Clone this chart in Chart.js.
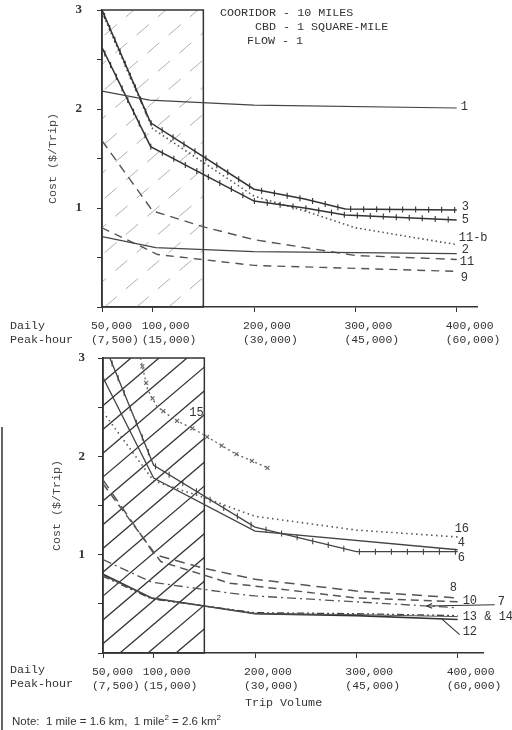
<!DOCTYPE html>
<html>
<head>
<meta charset="utf-8">
<script src="https://cdn.jsdelivr.net/npm/chart.js@4.4.1/dist/chart.umd.min.js"></script>
<style>
  body { margin: 0; background: #fff; width: 512px; height: 730px; position: relative; overflow: hidden; color: #333; }
  canvas { position: absolute; left: 0; }
  .t { position: absolute; font-family: "Liberation Mono", monospace; font-size: 11.7px; line-height: 14px; white-space: pre; color: #333; }
  .note { position: absolute; left: 12px; top: 713px; font-family: "Liberation Sans", Arial, sans-serif; font-size: 11.5px; color: #333; white-space: pre; }
  .scan { position: absolute; left: 1px; top: 427px; width: 2px; height: 303px; background: #666; }
</style>
</head>
<body>
<canvas id="topChart" width="512" height="350" style="top:0"></canvas>
<canvas id="bottomChart" width="512" height="350" style="top:345px"></canvas>

<div class="t" style="left:220px;top:6px">COORIDOR - 10 MILES</div>
<div class="t" style="left:255px;top:20px">CBD - 1 SQUARE-MILE</div>
<div class="t" style="left:247px;top:34px">FLOW - 1</div>

<div class="t" style="left:10px;top:319px">Daily
Peak-hour</div>
<div class="t" style="left:10px;top:663px">Daily
Peak-hour</div>
<div class="t" style="left:245px;top:696px">Trip Volume</div>
<div class="note">Note:  1 mile = 1.6 km,  1 mile<sup style="font-size:8px">2</sup> = 2.6 km<sup style="font-size:8px">2</sup></div>
<div class="scan"></div>

<script>
// x axis: daily trip volume, with peak-hour volume under it
const volumeTicks = [50000, 100000, 200000, 300000, 400000];
const dailyLabels = ['50,000', '100,000', '200,000', '300,000', '400,000'];
const peakLabels = ['(7,500)', '(15,000)', '(30,000)', '(45,000)', '(60,000)'];
const costTicks = [0, 0.5, 1, 1.5, 2, 2.5, 3];
const shadedRange = [50000, 150000];

// upper panel, [daily trips, cost $/trip]
const up1 = [[50000, 2.18], [97000, 2.09], [200000, 2.04], [400000, 2.01]];
const up3 = [[50000, 3.0], [98000, 1.86], [200000, 1.19], [250000, 1.09], [290000, 0.99], [400000, 0.98]];
const up5 = [[50000, 2.62], [98000, 1.62], [200000, 1.07], [250000, 1.0], [290000, 0.93], [400000, 0.88]];
const up11b = [[50000, 2.98], [100000, 1.8], [200000, 1.12], [250000, 0.97], [300000, 0.8], [400000, 0.63]];
const up2 = [[50000, 0.71], [103000, 0.6], [200000, 0.56], [400000, 0.54]];
const up11 = [[50000, 1.68], [100000, 0.97], [150000, 0.81], [200000, 0.68], [300000, 0.52], [400000, 0.48]];
const up9 = [[50000, 0.8], [105000, 0.53], [200000, 0.42], [300000, 0.39], [400000, 0.36]];

// lower panel
const lo15 = [[87000, 3.0], [94000, 2.68], [103000, 2.51], [121000, 2.37], [141000, 2.27], [180000, 2.03], [213000, 1.88]];
const lo16 = [[50000, 2.45], [100000, 1.75], [150000, 1.58], [200000, 1.39], [300000, 1.25], [400000, 1.18]];
const lo4 = [[50000, 2.8], [100000, 1.78], [200000, 1.24], [400000, 1.05]];
const lo6 = [[50000, 3.17], [100000, 1.91], [200000, 1.28], [300000, 1.03], [400000, 1.03]];
const lo8 = [[50000, 1.76], [101000, 1.0], [150000, 0.86], [200000, 0.75], [300000, 0.63], [400000, 0.56]];
const lo10 = [[50000, 1.72], [107000, 0.93], [175000, 0.71], [300000, 0.56], [400000, 0.52]];
const lo7 = [[50000, 0.95], [98000, 0.72], [175000, 0.61], [200000, 0.58], [300000, 0.52], [400000, 0.46]];
const lo13 = [[50000, 0.78], [98000, 0.55], [200000, 0.41], [300000, 0.4], [400000, 0.38]];
const lo14 = [[50000, 0.79], [98000, 0.56], [200000, 0.4], [300000, 0.39], [400000, 0.37]];
const lo12 = [[50000, 0.8], [98000, 0.56], [200000, 0.4], [300000, 0.38], [400000, 0.34]];

const xy = arr => arr.map(p => ({ x: p[0], y: p[1] }));

function line(data, color, width, dash, extra) {
  return Object.assign({
    data: xy(data), borderColor: color, borderWidth: width, borderDash: dash || [],
    pointRadius: 0, tension: 0, fill: false
  }, extra);
}

// hatched box, tick marks along some curves, curve numbers
const decor = {
  id: 'decor',
  beforeDatasetsDraw(chart, args, o) {
    const { ctx, scales: { x, y } } = chart;
    const x0 = x.getPixelForValue(shadedRange[0]), x1 = x.getPixelForValue(shadedRange[1]);
    const y0 = y.getPixelForValue(y.max), y1 = y.getPixelForValue(0);
    const h = y1 - y0;
    ctx.save();
    ctx.beginPath();
    ctx.rect(x0, y0, x1 - x0, h);
    ctx.clip();
    ctx.strokeStyle = o.hatchColor;
    ctx.lineWidth = o.hatchWidth;
    ctx.setLineDash(o.hatchDash);
    for (let sx = x0 - h / o.slope; sx < x1 + o.gap; sx += o.gap) {
      ctx.beginPath();
      ctx.moveTo(sx, y1);
      ctx.lineTo(sx + h / o.slope, y0);
      ctx.stroke();
    }
    ctx.restore();
    ctx.save();
    ctx.strokeStyle = '#333';
    ctx.lineWidth = 1.5;
    ctx.strokeRect(x0, y0, x1 - x0, h);
    ctx.restore();
  },
  afterDatasetsDraw(chart) {
    const { ctx, chartArea: a } = chart;
    chart.data.datasets.forEach((ds, i) => {
      const pts = chart.getDatasetMeta(i).data.map(p => ({ x: p.x, y: p.y }));
      if (ds.mark) {
        ctx.save();
        ctx.beginPath();
        ctx.rect(a.left, a.top, a.right - a.left, a.bottom - a.top);
        ctx.clip();
        ctx.strokeStyle = ds.borderColor;
        ctx.lineWidth = 1.1;
        let carry = ds.markGap / 2;
        for (let k = 1; k < pts.length; k++) {
          const p = pts[k - 1], q = pts[k];
          const len = Math.hypot(q.x - p.x, q.y - p.y);
          let d = carry;
          while (d <= len) {
            const t = d / len;
            const mx = p.x + (q.x - p.x) * t, my = p.y + (q.y - p.y) * t;
            ctx.beginPath();
            if (ds.mark === 'tick') {
              ctx.moveTo(mx, my - 3); ctx.lineTo(mx, my + 3);
            } else {
              ctx.moveTo(mx - 2, my - 2); ctx.lineTo(mx + 2, my + 2);
              ctx.moveTo(mx + 2, my - 2); ctx.lineTo(mx - 2, my + 2);
            }
            ctx.stroke();
            d += ds.markGap;
          }
          carry = d - len;
        }
        ctx.restore();
      }
      if (ds.tag) {
        const tg = ds.tag;
        const p = pts[tg.at != null ? tg.at : pts.length - 1];
        const lx = p.x + tg.dx, ly = p.y + tg.dy;
        ctx.save();
        ctx.font = '12px "Liberation Mono", monospace';
        ctx.fillStyle = '#333';
        ctx.textAlign = 'left';
        ctx.textBaseline = 'middle';
        ctx.fillText(tg.text, lx, ly);
        if (tg.arrow) {
          const b = pts[pts.length - 1], c = pts[pts.length - 2];
          const tx = b.x + tg.arrow;
          const ty = c.y + (b.y - c.y) * (tx - c.x) / (b.x - c.x);
          const sx = lx - 3, sy = ly + 3;
          ctx.strokeStyle = '#333';
          ctx.lineWidth = 1.1;
          ctx.beginPath();
          ctx.moveTo(sx, sy);
          ctx.lineTo(tx, ty);
          ctx.stroke();
          if (tg.head) {
            const ang = Math.atan2(ty - sy, tx - sx);
            ctx.beginPath();
            ctx.moveTo(tx, ty);
            ctx.lineTo(tx - 6 * Math.cos(ang - 0.4), ty - 6 * Math.sin(ang - 0.4));
            ctx.moveTo(tx, ty);
            ctx.lineTo(tx - 6 * Math.cos(ang + 0.4), ty - 6 * Math.sin(ang + 0.4));
            ctx.stroke();
          }
        }
        ctx.restore();
      }
    });
  }
};

function makeChart(id, datasets, cfg) {
  return new Chart(document.getElementById(id), {
    type: 'line',
    data: { datasets: datasets },
    options: {
      responsive: false,
      animation: false,
      devicePixelRatio: 1,
      layout: { padding: cfg.padding },
      plugins: {
        legend: { display: false },
        tooltip: { enabled: false },
        decor: cfg.hatch
      },
      scales: {
        x: {
          type: 'linear',
          min: 50000,
          max: cfg.xMax,
          afterBuildTicks: s => { s.ticks = volumeTicks.map(v => ({ value: v })); },
          afterFit: s => { s.height = cfg.xHeight; s.paddingLeft = 0; s.paddingRight = 0; },
          grid: { drawOnChartArea: false, color: '#333', tickLength: 5 },
          border: { color: '#333', width: 1.5 },
          ticks: {
            autoSkip: false, maxRotation: 0, align: 'start', labelOffset: -11, padding: 7,
            color: '#333',
            font: { family: '"Liberation Mono", monospace', size: 11.4, lineHeight: 1.23 },
            callback: (v, i) => [dailyLabels[i], peakLabels[i]]
          }
        },
        y: {
          min: 0,
          max: 3,
          afterBuildTicks: s => { s.ticks = costTicks.map(v => ({ value: v })); },
          afterFit: s => { s.width = cfg.yWidth; s.paddingTop = 0; s.paddingBottom = 0; },
          grid: { drawOnChartArea: false, color: '#333', tickLength: 5 },
          border: { color: '#333', width: 1.5 },
          title: {
            display: true, text: 'Cost ($/Trip)', color: '#444',
            font: { family: '"Liberation Mono", monospace', size: 11.7 }
          },
          ticks: {
            padding: cfg.yPad, color: '#333',
            font: { family: '"Liberation Serif", serif', size: 13, weight: 'bold' },
            callback: v => (v > 0 && v % 1 === 0) ? String(v) : ''
          }
        }
      }
    },
    plugins: [decor]
  });
}

makeChart('topChart', [
  line(up1, '#444', 1.2, [], { tag: { text: '1', dx: 4, dy: -1 } }),
  line(up3, '#333', 1.5, [], { mark: 'tick', markGap: 13, tag: { text: '3', dx: 5, dy: -3 } }),
  line(up5, '#333', 1.5, [], { mark: 'tick', markGap: 13, tag: { text: '5', dx: 5, dy: 0 } }),
  line(up11b, '#555', 1.6, [1.5, 3], { tag: { text: '11-b', dx: 2, dy: -7 } }),
  line(up2, '#444', 1.2, [], { tag: { text: '2', dx: 5, dy: -4 } }),
  line(up11, '#555', 1.4, [9, 6], { tag: { text: '11', dx: 3, dy: 2 } }),
  line(up9, '#555', 1.4, [8, 6], { tag: { text: '9', dx: 4, dy: 6 } })
], {
  padding: { top: 10, left: 42, right: 35, bottom: 0 },
  xMax: 420000, xHeight: 43, yWidth: 60, yPad: 15,
  hatch: { hatchColor: '#b0b0b0', hatchWidth: 1, hatchDash: [16, 12], slope: 0.85, gap: 32 }
});

makeChart('bottomChart', [
  line(lo15, '#666', 1.3, [2, 3], { mark: 'x', markGap: 17, tag: { text: '15', dx: -6, dy: -17, at: 4 } }),
  line(lo16, '#555', 1.6, [1.5, 3.5], { tag: { text: '16', dx: -3, dy: -8 } }),
  line(lo4, '#444', 1.3, [], { tag: { text: '4', dx: 0, dy: -7 } }),
  line(lo6, '#444', 1.3, [], { mark: 'tick', markGap: 16, tag: { text: '6', dx: 0, dy: 6 } }),
  line(lo8, '#555', 1.5, [10, 6], { tag: { text: '8', dx: -8, dy: -10 } }),
  line(lo10, '#555', 1.5, [8, 5], { tag: { text: '10', dx: 5, dy: -1 } }),
  line(lo7, '#555', 1.3, [9, 4, 2, 4], { tag: { text: '7', dx: 40, dy: -6, arrow: -31, head: true } }),
  line(lo13, '#444', 1.3, [7, 3, 2, 3, 2, 3], { tag: { text: '13 & 14', dx: 5, dy: 1 } }),
  line(lo14, '#555', 1.0, []),
  line(lo12, '#333', 1.6, [], { tag: { text: '12', dx: 5, dy: 12, arrow: -16 } })
], {
  padding: { top: 13, left: 46, right: 29, bottom: 0 },
  xMax: 425000, xHeight: 42, yWidth: 57, yPad: 13,
  hatch: { hatchColor: '#333', hatchWidth: 1.3, hatchDash: [], slope: 0.85, gap: 28 }
});
</script>
</body>
</html>
